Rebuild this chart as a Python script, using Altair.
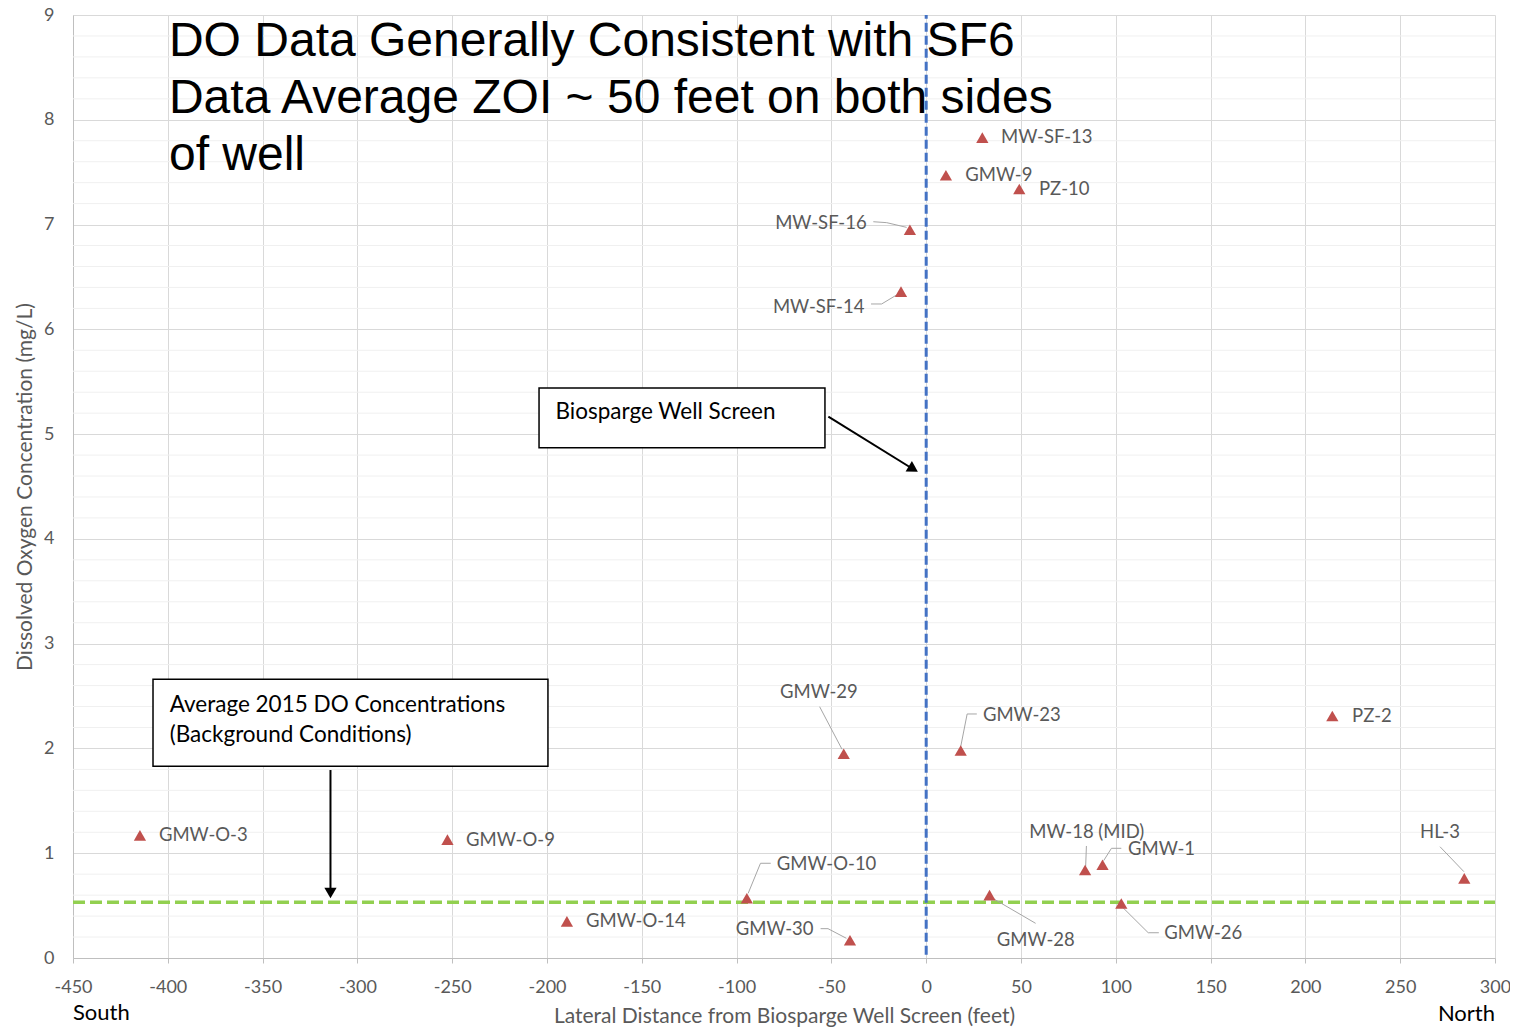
import altair as alt
import pandas as pd

# ---- data ----
wells = ["GMW-O-3", "GMW-O-9", "GMW-O-14", "GMW-O-10", "GMW-30", "GMW-29",
         "MW-SF-14", "MW-SF-16", "GMW-9", "MW-SF-13", "PZ-10", "GMW-23",
         "GMW-28", "MW-18 (MID)", "GMW-1", "GMW-26", "PZ-2", "HL-3"]
dist_ft = [-414.7, -252.5, -189.5, -94.6, -40.2, -43.5,
           -13.3, -8.6, 10.4, 29.6, 49.1, 18.2,
           33.4, 83.8, 93.0, 102.9, 214.2, 283.8]
do_mgL = [1.17, 1.13, 0.35, 0.57, 0.17, 1.95,
          6.36, 6.95, 7.47, 7.83, 7.34, 1.98,
          0.60, 0.84, 0.89, 0.52, 2.31, 0.76]

# label anchor positions (data units) and alignment
label_x = [-404.7, -242.7, -179.4, -78.8, -59.4, -56.6,
           -32.6, -31.4, 20.6, 39.5, 59.5, 29.9,
           57.8, 84.7, 106.4, 125.6, 224.6, 271.0]
label_y = [1.174, 1.126, 0.353, 0.897, 0.274, 2.536,
           6.216, 7.012, 7.473, 7.833, 7.336, 2.319,
           0.172, 1.205, 1.040, 0.236, 2.313, 1.205]
label_align = ["left", "left", "left", "left", "right", "center",
               "right", "right", "left", "left", "left", "left",
               "center", "center", "left", "left", "left", "center"]

# leader lines (polyline vertices in data units)
leader_well = ["GMW-O-10"] * 3 + ["GMW-30"] * 3 + ["GMW-29"] * 2 + ["MW-SF-14"] * 3 + \
              ["MW-SF-16"] * 3 + ["GMW-23"] * 3 + ["GMW-28"] * 2 + ["MW-18 (MID)"] * 2 + \
              ["GMW-1"] * 3 + ["GMW-26"] * 3 + ["HL-3"] * 2
leader_x = [-82.0, -87.4, -93.9, -55.7, -51.8, -42.1, -56.2, -44.4,
            -29.1, -23.5, -15.6, -27.9, -20.8, -10.3, 26.7, 21.6, 18.2,
            34.2, 57.7, 84.5, 84.1, 102.9, 97.7, 93.6, 122.7, 117.1, 102.9,
            271.0, 283.6]
leader_y = [0.904, 0.904, 0.617, 0.280, 0.280, 0.188, 2.398, 1.992,
            6.242, 6.242, 6.328, 7.027, 7.018, 6.973, 2.329, 2.329, 2.017,
            0.579, 0.331, 1.069, 0.871, 1.047, 1.047, 0.929, 0.241, 0.241, 0.496,
            1.062, 0.824]
leader_order = [0, 1, 2, 0, 1, 2, 0, 1, 0, 1, 2, 0, 1, 2, 0, 1, 2,
                0, 1, 0, 1, 0, 1, 2, 0, 1, 2, 0, 1]

background_do = 0.531
well_screen_x = 0

title_lines = ["DO Data Generally Consistent with SF6",
               "Data Average ZOI ~ 50 feet on both sides",
               "of well"]

x_ticks = list(range(-450, 301, 50))
y_ticks = list(range(0, 10))
minor_y = [round(i * 0.2, 1) for i in range(46) if i % 5 != 0]

GRAY_TXT = "#595959"
RED = "#c0504d"
FONT = "Lato"

xs = alt.Scale(domain=[-450, 300], nice=False, zero=False)
ys = alt.Scale(domain=[0, 9], nice=False, zero=False)

pts = pd.DataFrame({"well": wells, "x": dist_ft, "y": do_mgL,
                    "lx": label_x, "ly": label_y, "align": label_align})
lead = pd.DataFrame({"well": leader_well, "x": leader_x, "y": leader_y, "o": leader_order})

# minor gridlines
minor = alt.Chart(pd.DataFrame({"y": minor_y})).mark_rule(
    color="#f0f0f0", strokeWidth=1).encode(y=alt.Y("y:Q", scale=ys))

base_axes = alt.Chart(pts).mark_point(opacity=0).encode(
    x=alt.X("x:Q", scale=xs,
            axis=alt.Axis(values=x_ticks, title="Lateral Distance from Biosparge Well Screen (feet)",
                          labelExpr="'' + datum.value",
                          grid=True, gridColor="#d9d9d9", domainColor="#bfbfbf",
                          tickColor="#bfbfbf", tickSize=5, labelPadding=29,
                          labelBaseline="alphabetic",
                          labelFont=FONT, labelFontSize=18, labelColor=GRAY_TXT,
                          titleFont=FONT, titleFontSize=21, titleFontWeight="normal",
                          titleColor=GRAY_TXT, titleY=64, titleBaseline="alphabetic",
                          labelFlush=False)),
    y=alt.Y("y:Q", scale=ys,
            axis=alt.Axis(values=y_ticks, title="Dissolved Oxygen Concentration (mg/L)",
                          labelExpr="'' + datum.value",
                          grid=True, gridColor="#d9d9d9", domainColor="#bfbfbf",
                          ticks=False, labelPadding=19,
                          labelFont=FONT, labelFontSize=18, labelColor=GRAY_TXT,
                          titleFont=FONT, titleFontSize=21, titleFontWeight="normal",
                          titleColor=GRAY_TXT, titleX=-42, titleY=471.5, titleAngle=270,
                          titleBaseline="alphabetic", titleAlign="center",
                          labelFlush=False)),
)

green = alt.Chart(pd.DataFrame({"y": [background_do], "x": [-450], "x2": [300]})).mark_rule(
    color="#92d050", strokeWidth=3.5, strokeDash=[12, 5]).encode(
    y=alt.Y("y:Q", scale=ys), x=alt.X("x:Q", scale=xs), x2="x2:Q")

blue = alt.Chart(pd.DataFrame({"x": [well_screen_x], "y": [0.03], "y2": [9]})).mark_rule(
    color="#4472c4", strokeWidth=3, strokeDash=[9, 4]).encode(
    x=alt.X("x:Q", scale=xs), y=alt.Y("y:Q", scale=ys), y2="y2:Q")

leaders = alt.Chart(lead).mark_line(color="#a6a6a6", strokeWidth=1).encode(
    x=alt.X("x:Q", scale=xs), y=alt.Y("y:Q", scale=ys), detail="well:N", order="o:Q")

points = alt.Chart(pts).mark_point(shape="triangle-up", filled=True, color=RED,
                                   size=150, opacity=1).encode(
    x=alt.X("x:Q", scale=xs), y=alt.Y("y:Q", scale=ys))

def label_layer(al):
    return alt.Chart(pts).transform_filter(alt.datum.align == al).mark_text(
        align=al, baseline="middle", font=FONT, fontSize=18.5, color=GRAY_TXT).encode(
        x=alt.X("lx:Q", scale=xs), y=alt.Y("ly:Q", scale=ys), text="well:N")

labels = [label_layer(a) for a in ["left", "right", "center"]]

# annotation boxes
boxes = pd.DataFrame({"x": [-204.2, -407.8], "x2": [-53.4, -199.5],
                      "y": [5.44, 2.66], "y2": [4.87, 1.83]})
box_layer = alt.Chart(boxes).mark_rect(fill="white", stroke="black", strokeWidth=1.5).encode(
    x=alt.X("x:Q", scale=xs), x2="x2:Q", y=alt.Y("y:Q", scale=ys), y2="y2:Q")

box_text = pd.DataFrame({"x": [-195.5, -399.0], "y": [5.141, 2.35],
                         "t": ["Biosparge Well Screen",
                               "Average 2015 DO Concentrations\n(Background Conditions)"]})
box_text_layer = alt.Chart(box_text).mark_text(
    align="left", baseline="alphabetic", font=FONT, fontSize=22.5, color="black",
    lineBreak="\n", lineHeight=30).encode(
    x=alt.X("x:Q", scale=xs), y=alt.Y("y:Q", scale=ys), text="t:N")

arrows = pd.DataFrame({"a": ["a1", "a1", "a2", "a2"],
                       "x": [-51.6, -7.0, -314.2, -314.2],
                       "y": [5.166, 4.667, 1.794, 0.65], "o": [0, 1, 0, 1]})
arrow_lines = alt.Chart(arrows).mark_line(color="black", strokeWidth=2).encode(
    x=alt.X("x:Q", scale=xs), y=alt.Y("y:Q", scale=ys), detail="a:N", order="o:Q")
heads = pd.DataFrame({"x": [-6.8, -314.2], "y": [4.667, 0.62], "ang": [121, 180]})
arrow_heads = alt.Chart(heads).mark_point(shape="triangle-up", filled=True, color="black",
                                          size=150, opacity=1).encode(
    x=alt.X("x:Q", scale=xs), y=alt.Y("y:Q", scale=ys), angle=alt.Angle("ang:Q", scale=None))

title_df = pd.DataFrame({"x": [-399.4], "y": [8.608], "t": ["\n".join(title_lines)]})
title_layer = alt.Chart(title_df).mark_text(
    align="left", baseline="alphabetic", font="Liberation Sans", fontSize=48,
    color="black", lineBreak="\n", lineHeight=57).encode(
    x=alt.X("x:Q", scale=xs), y=alt.Y("y:Q", scale=ys), text="t:N")

dir_df = pd.DataFrame({"x": [-450, 300], "y": [-0.595, -0.60], "t": ["South", "North"],
                       "al": ["left", "right"]})
south = alt.Chart(dir_df).transform_filter(alt.datum.al == "left").mark_text(
    align="left", baseline="alphabetic", font=FONT, fontSize=22, color="black").encode(
    x=alt.X("x:Q", scale=xs), y=alt.Y("y:Q", scale=ys), text="t:N")
north = alt.Chart(dir_df).transform_filter(alt.datum.al == "right").mark_text(
    align="right", baseline="alphabetic", font=FONT, fontSize=22, color="black").encode(
    x=alt.X("x:Q", scale=xs), y=alt.Y("y:Q", scale=ys), text="t:N")

chart = alt.layer(
    minor, base_axes, green, blue, leaders, points, *labels,
    box_layer, box_text_layer, arrow_lines, arrow_heads, title_layer, south, north
).properties(
    width=1422, height=943,
    autosize=alt.AutoSizeParams(type="none"),
    padding={"left": 65, "top": 7, "right": 15, "bottom": 69},
    background="white",
).configure_view(strokeWidth=0)

chart.save("out.html", embed_options={"renderer": "svg", "actions": False})
